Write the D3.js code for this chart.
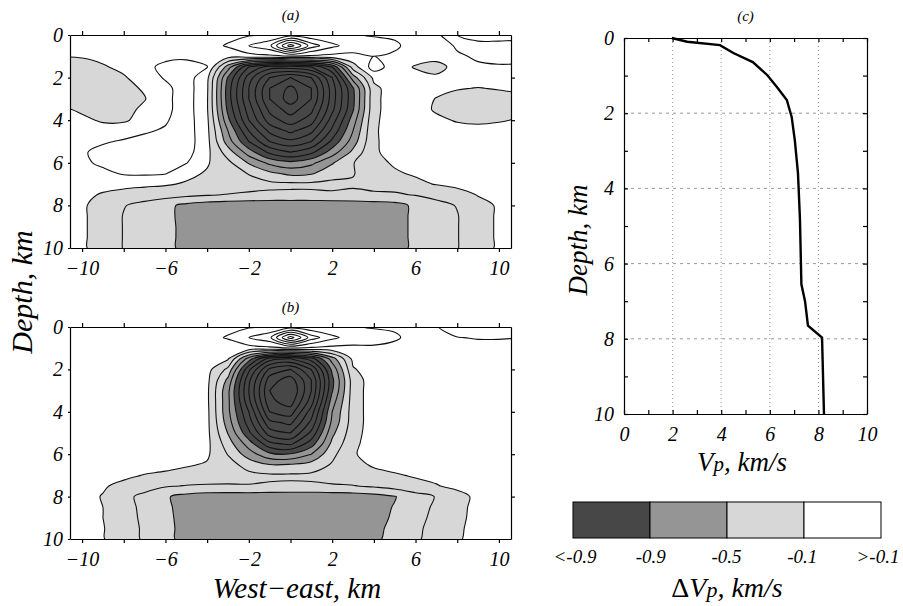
<!DOCTYPE html>
<html>

<head>
    <meta charset="utf-8">
    <title>P-wave velocity anomaly sections</title>
    <style>
        body {
            margin: 0;
            background: #fff;
        }

        text {
            font-family: "Liberation Serif", "Times New Roman", serif;
            font-style: italic;
        }

        .axis text {
            font-size: 20px;
            font-family: "Liberation Serif", "Times New Roman", serif;
            font-style: italic;
        }

        .axis path,
        .axis line {
            stroke: #000;
            stroke-width: 1.2;
        }
    </style>
    <script src="https://cdn.jsdelivr.net/npm/d3@7"></script>
</head>

<body>
    <script>
        // grid nodes of the two sections (km)
        var xNodes = [-11, -10, -9, -8, -7, -6, -5, -4, -3, -2, -1, 0, 1, 2, 3, 4, 5, 6, 7, 8, 9, 10, 11];
        var depthNodes = [0, 0.5, 1, 1.5, 2, 2.5, 3, 3.5, 4, 4.5, 5, 5.5, 6, 6.5, 7, 7.5, 8, 8.5, 9, 9.5, 10];

        // dVp (km/s), one row per depth node
        var gridA = [
            [0, 0, 0, 0, 0, 0, 0, 0.02, 0.04, 0.08, 0.12, 0.2, 0.15, 0.12, 0.11, 0.09, 0.08, 0.03, 0.05, 0.3, 0.5, 0.5, 0.5],
            [0, 0, 0, 0, 0, 0.02, 0.02, 0.03, 0.12, 0.3, 0.45, 1.2, 0.6, 0.35, 0.2, 0.15, 0.12, 0.05, 0.02, 0.12, 0.15, 0.15, 0.15],
            [-0.08, -0.08, -0.05, 0, 0.02, 0.05, 0.05, 0, -0.02, 0.02, 0.05, 0.08, 0.06, 0.04, 0.05, 0.1, 0.08, 0, 0, 0.08, 0.12, 0.13, 0.13],
            [-0.2, -0.2, -0.12, -0.05, 0.05, 0.15, 0.2, 0.11, -0.6, -1.3, -1.6, -1.6, -1.5, -1.1, -0.2, 0.2, 0, -0.12, -0.2, 0, 0.08, 0.09, 0.09],
            [-0.25, -0.25, -0.2, -0.12, 0, 0.12, 0.2, -0.05, -0.92, -1.6, -2.1, -2.3, -2.1, -1.5, -0.6, -0.05, 0, -0.02, -0.05, 0, 0.02, 0.03, 0.03],
            [-0.28, -0.28, -0.25, -0.15, -0.08, 0.05, 0.2, -0.07, -1.0, -1.7, -2.3, -2.55, -2.3, -1.6, -0.92, -0.15, 0, 0, -0.03, -0.08, -0.11, -0.08, -0.05],
            [-0.28, -0.28, -0.25, -0.18, -0.11, 0.05, 0.2, -0.08, -1.0, -1.7, -2.3, -2.6, -2.3, -1.6, -0.95, -0.15, 0, 0, -0.11, -0.2, -0.24, -0.2, -0.15],
            [-0.06, -0.14, -0.2, -0.16, -0.06, 0.05, 0.2, -0.08, -0.95, -1.6, -2.15, -2.4, -2.15, -1.55, -0.92, -0.15, 0, 0, -0.13, -0.22, -0.26, -0.22, -0.15],
            [0, -0.05, -0.13, -0.13, -0.02, 0.08, 0.2, -0.06, -0.85, -1.5, -2.0, -2.2, -2.0, -1.4, -0.8, -0.13, -0.02, 0, -0.05, -0.12, -0.15, -0.12, -0.08],
            [0.02, 0.02, 0, 0.02, 0.08, 0.12, 0.2, -0.05, -0.7, -1.3, -1.75, -1.95, -1.75, -1.25, -0.7, -0.12, -0.03, 0, 0, -0.02, -0.02, -0.02, 0],
            [0.02, 0.05, 0.08, 0.12, 0.15, 0.2, 0.2, -0.04, -0.6, -1.1, -1.5, -1.65, -1.5, -1.05, -0.6, -0.12, -0.04, 0, 0, 0, 0, 0, 0],
            [0.02, 0.08, 0.15, 0.18, 0.2, 0.2, 0.18, -0.05, -0.4, -0.8, -1.15, -1.3, -1.15, -0.8, -0.45, -0.12, -0.05, 0, 0, 0, 0, 0, 0],
            [0.02, 0.06, 0.14, 0.17, 0.18, 0.17, 0.11, -0.08, -0.25, -0.52, -0.75, -0.85, -0.75, -0.52, -0.31, -0.15, -0.08, -0.02, 0, 0, 0, 0, 0],
            [0, 0, 0.05, 0.12, 0.13, 0.11, -0.05, -0.12, -0.2, -0.31, -0.45, -0.55, -0.52, -0.38, -0.31, -0.2, -0.12, -0.08, -0.05, -0.02, 0, 0, 0],
            [0, -0.02, -0.03, -0.05, -0.06, -0.08, -0.12, -0.15, -0.18, -0.22, -0.25, -0.26, -0.26, -0.25, -0.28, -0.26, -0.24, -0.14, -0.09, -0.05, -0.02, 0, 0],
            [0, -0.05, -0.12, -0.16, -0.2, -0.22, -0.25, -0.28, -0.31, -0.33, -0.34, -0.34, -0.34, -0.33, -0.33, -0.32, -0.32, -0.29, -0.24, -0.18, -0.09, -0.05, 0],
            [0, -0.08, -0.16, -0.29, -0.36, -0.45, -0.55, -0.6, -0.62, -0.63, -0.64, -0.64, -0.64, -0.63, -0.62, -0.6, -0.57, -0.46, -0.36, -0.29, -0.16, -0.08, 0],
            [0, -0.08, -0.16, -0.31, -0.36, -0.45, -0.56, -0.61, -0.63, -0.64, -0.64, -0.65, -0.64, -0.64, -0.63, -0.61, -0.57, -0.46, -0.36, -0.31, -0.16, -0.08, 0],
            [0, -0.08, -0.16, -0.31, -0.36, -0.44, -0.56, -0.62, -0.64, -0.65, -0.65, -0.65, -0.65, -0.65, -0.64, -0.62, -0.57, -0.46, -0.36, -0.31, -0.16, -0.08, 0],
            [0, -0.08, -0.16, -0.31, -0.36, -0.43, -0.57, -0.62, -0.64, -0.65, -0.65, -0.65, -0.65, -0.65, -0.64, -0.62, -0.57, -0.46, -0.36, -0.31, -0.16, -0.08, 0],
            [0, -0.08, -0.16, -0.31, -0.36, -0.42, -0.58, -0.62, -0.64, -0.65, -0.65, -0.65, -0.65, -0.65, -0.64, -0.62, -0.57, -0.46, -0.36, -0.31, -0.16, -0.08, 0]
        ];

        // dVp (km/s)
        var gridB = [
            [0, 0, 0, 0, 0, 0, 0, 0.02, 0.04, 0.08, 0.12, 0.2, 0.15, 0.12, 0.11, 0.09, 0.08, 0.03, 0.08, 0.3, 0.3, 0.3, 0.3],
            [0, 0, 0, 0, 0, 0, 0.02, 0.03, 0.12, 0.3, 0.45, 1.2, 0.6, 0.35, 0.2, 0.15, 0.12, 0.05, 0.02, 0.09, 0.12, 0.12, 0.12],
            [0, 0, 0, 0, 0, 0, 0, 0, -0.02, 0.02, 0.05, 0.08, 0.06, 0.04, 0.06, 0.08, 0.06, 0, 0, 0, 0, 0, 0],
            [0, 0, 0, 0, 0, 0, 0, 0, -0.08, -0.8, -1.4, -1.5, -1.2, -0.6, -0.05, 0, 0, 0, 0, 0, 0, 0, 0],
            [0, 0, 0, 0, 0, 0, 0, -0.03, -0.35, -1.25, -1.95, -2.1, -1.7, -0.85, -0.12, 0, 0, 0, 0, 0, 0, 0, 0],
            [0, 0, 0, 0, 0, 0, 0, -0.05, -0.55, -1.45, -2.2, -2.4, -1.9, -0.95, -0.2, 0, 0, 0, 0, 0, 0, 0, 0],
            [0, 0, 0, 0, 0, 0, 0, -0.06, -0.65, -1.5, -2.3, -2.5, -1.9, -0.92, -0.2, 0, 0, 0, 0, 0, 0, 0, 0],
            [0, 0, 0, 0, 0, 0, 0, -0.06, -0.65, -1.45, -2.25, -2.4, -1.8, -0.8, -0.2, 0, 0, 0, 0, 0, 0, 0, 0],
            [0, 0, 0, 0, 0, 0, 0, -0.05, -0.65, -1.3, -2.1, -2.2, -1.6, -0.7, -0.2, 0, 0, 0, 0, 0, 0, 0, 0],
            [0, 0, 0, 0, 0, 0, 0, -0.05, -0.6, -1.2, -1.85, -1.95, -1.45, -0.65, -0.2, 0, 0, 0, 0, 0, 0, 0, 0],
            [0, 0, 0, 0, 0, 0, 0, -0.05, -0.51, -1.05, -1.6, -1.7, -1.25, -0.55, -0.18, 0, 0, 0, 0, 0, 0, 0, 0],
            [0, 0, 0, 0, 0, 0, 0, -0.05, -0.4, -0.8, -1.25, -1.35, -1.0, -0.45, -0.15, 0, 0, 0, 0, 0, 0, 0, 0],
            [0, 0, 0, 0, 0, 0, -0.02, -0.07, -0.31, -0.6, -0.85, -0.88, -0.7, -0.35, -0.12, -0.02, 0, 0, 0, 0, 0, 0, 0],
            [0, 0, 0, 0, -0.02, -0.04, -0.08, -0.12, -0.22, -0.38, -0.49, -0.48, -0.42, -0.28, -0.15, -0.08, -0.04, -0.02, 0, 0, 0, 0, 0],
            [0, 0, -0.02, -0.06, -0.11, -0.14, -0.18, -0.2, -0.22, -0.25, -0.27, -0.27, -0.26, -0.22, -0.18, -0.15, -0.12, -0.08, -0.06, -0.03, 0, 0, 0],
            [0, -0.02, -0.08, -0.15, -0.22, -0.28, -0.31, -0.32, -0.32, -0.31, -0.32, -0.33, -0.33, -0.32, -0.31, -0.27, -0.22, -0.16, -0.11, -0.06, -0.02, 0, 0],
            [0, -0.04, -0.11, -0.25, -0.35, -0.48, -0.56, -0.6, -0.61, -0.61, -0.62, -0.62, -0.62, -0.61, -0.6, -0.57, -0.51, -0.38, -0.29, -0.16, -0.06, -0.02, 0],
            [0, -0.03, -0.1, -0.24, -0.34, -0.47, -0.56, -0.6, -0.61, -0.61, -0.62, -0.62, -0.62, -0.61, -0.6, -0.56, -0.49, -0.37, -0.27, -0.15, -0.05, -0.02, 0],
            [0, -0.03, -0.1, -0.22, -0.34, -0.46, -0.56, -0.6, -0.61, -0.61, -0.62, -0.62, -0.62, -0.61, -0.6, -0.55, -0.48, -0.36, -0.25, -0.14, -0.05, -0.02, 0],
            [0, -0.02, -0.09, -0.21, -0.33, -0.45, -0.56, -0.6, -0.61, -0.61, -0.62, -0.62, -0.62, -0.61, -0.6, -0.54, -0.46, -0.34, -0.23, -0.13, -0.04, -0.02, 0],
            [0, -0.02, -0.09, -0.2, -0.33, -0.45, -0.56, -0.6, -0.61, -0.61, -0.62, -0.62, -0.62, -0.61, -0.6, -0.53, -0.45, -0.33, -0.22, -0.12, -0.04, -0.02, 0]
        ];

        // contour levels and shading classes
        var lineLevels = [1.1, 0.9, 0.7, 0.5, 0.3, 0.1, -0.1, -0.3, -0.5, -0.7, -0.9, -1.1, -1.3, -1.5, -1.7, -1.9, -2.1, -2.3, -2.5];
        var shadeLevels = [-0.1, -0.5, -0.9];
        var shadeColors = ["#d7d7d7", "#959595", "#474747"];

        var xTicks = [-10, -8, -6, -4, -2, 0, 2, 4, 6, 8, 10];
        var xTickLabels = [-10, -6, -2, 2, 6, 10];
        var depthTicks = [0, 2, 4, 6, 8, 10];

        // panel (c): 1-D velocity model
        var profileDepth = [0, 0.1, 0.19, 0.4, 0.64, 0.99, 1.31, 1.65, 2.1, 2.72, 3.6, 4.8, 6.55, 7.0, 7.65, 7.97, 10];
        var profileVp = [1.97, 2.6, 3.95, 4.5, 5.3, 5.9, 6.3, 6.7, 6.9, 7.03, 7.16, 7.24, 7.3, 7.45, 7.57, 8.15, 8.23];
        var vpTicks = [0, 1, 2, 3, 4, 5, 6, 7, 8, 9, 10];
        var vpGrid = [2, 4, 6, 8];

        // legend
        var legendColors = ["#474747", "#959595", "#d7d7d7", "#ffffff"];
        var legendLabels = ["<-0.9", "-0.9", "-0.5", "-0.1", ">-0.1"];

        var svg = d3.select("body").append("svg")
            .attr("width", 903)
            .attr("height", 606);

        function minus(d) {
            return d < 0 ? "\u2212" + Math.abs(d) : "" + d;
        }

        function drawSection(grid, top, bottom, title, clipId) {
            var x = d3.scaleLinear().domain([-10.58, 10.58]).range([70, 511]);
            var y = d3.scaleLinear().domain([0, 10]).range([top, bottom]);

            var nx = xNodes.length,
                ny = depthNodes.length;
            var stepX = xNodes[1] - xNodes[0],
                stepY = depthNodes[1] - depthNodes[0];

            // negate so that "above threshold" means "slower than level"
            var flat = [];
            grid.forEach(function(row) {
                row.forEach(function(v) {
                    flat.push(-v);
                });
            });

            var contours = d3.contours().size([nx, ny]);
            var ringLine = d3.line()
                .x(function(p) {
                    return x(xNodes[0] + (p[0] - 0.5) * stepX);
                })
                .y(function(p) {
                    return y(depthNodes[0] + (p[1] - 0.5) * stepY);
                })
                .curve(d3.curveCatmullRomClosed.alpha(0.5));

            function pathOf(geom) {
                return geom.coordinates.map(function(poly) {
                    return poly.map(function(ring) {
                        return ringLine(ring.slice(0, -1));
                    }).join("");
                }).join("");
            }

            svg.append("clipPath").attr("id", clipId)
                .append("rect")
                .attr("x", x.range()[0]).attr("y", top)
                .attr("width", x.range()[1] - x.range()[0])
                .attr("height", bottom - top);

            var g = svg.append("g").attr("clip-path", "url(#" + clipId + ")");

            shadeLevels.forEach(function(lv, i) {
                g.append("path")
                    .attr("d", pathOf(contours.contour(flat, -lv)))
                    .attr("fill", shadeColors[i])
                    .attr("fill-rule", "evenodd");
            });

            lineLevels.forEach(function(lv) {
                g.append("path")
                    .attr("d", pathOf(contours.contour(flat, -lv)))
                    .attr("fill", "none")
                    .attr("stroke", "#111")
                    .attr("stroke-width", 1.1)
                    .attr("stroke-linejoin", "round");
            });

            // axes
            svg.append("g").attr("class", "axis")
                .attr("transform", "translate(0," + bottom + ")")
                .call(d3.axisBottom(x).tickValues(xTicks).tickSize(4).tickSizeOuter(0).tickPadding(9)
                    .tickFormat(function(d) {
                        return xTickLabels.indexOf(d) >= 0 ? minus(d) : "";
                    }));
            svg.append("g").attr("class", "axis")
                .attr("transform", "translate(0," + top + ")")
                .call(d3.axisTop(x).tickValues(xTicks).tickSize(4).tickSizeOuter(0).tickFormat(""));
            svg.append("g").attr("class", "axis")
                .attr("transform", "translate(" + x.range()[0] + ",0)")
                .call(d3.axisLeft(y).tickValues(depthTicks).tickSize(2).tickSizeOuter(0).tickPadding(5));
            svg.append("g").attr("class", "axis")
                .attr("transform", "translate(" + x.range()[1] + ",0)")
                .call(d3.axisRight(y).tickValues([2, 4, 6, 8]).tickSize(4).tickSizeOuter(0).tickFormat(""));

            svg.append("text")
                .attr("x", x(0)).attr("y", top - 15)
                .attr("text-anchor", "middle")
                .style("font-size", "15px")
                .text(title);
        }

        drawSection(gridA, 35, 248, "(a)", "clipA");
        drawSection(gridB, 327, 539, "(b)", "clipB");

        // shared axis titles of (a) and (b)
        svg.append("text")
            .attr("transform", "translate(32,292) rotate(-90)")
            .attr("text-anchor", "middle")
            .style("font-size", "30px")
            .text("Depth, km");
        svg.append("text")
            .attr("x", 297).attr("y", 598)
            .attr("text-anchor", "middle")
            .style("font-size", "29px")
            .text("West\u2212east, km");

        // panel (c)
        var vx = d3.scaleLinear().domain([0, 10]).range([624, 867]);
        var vy = d3.scaleLinear().domain([0, 10]).range([38, 414]);

        svg.append("g").selectAll("line.gx")
            .data(vpGrid).enter().append("line")
            .attr("x1", function(d) { return vx(d); })
            .attr("x2", function(d) { return vx(d); })
            .attr("y1", vy(0)).attr("y2", vy(10))
            .attr("stroke", "#999").attr("stroke-width", 1)
            .attr("stroke-dasharray", "1,3");
        svg.append("g").selectAll("line.gy")
            .data(vpGrid).enter().append("line")
            .attr("y1", function(d) { return vy(d); })
            .attr("y2", function(d) { return vy(d); })
            .attr("x1", vx(0)).attr("x2", vx(10))
            .attr("stroke", "#999").attr("stroke-width", 1)
            .attr("stroke-dasharray", "3,4");

        svg.append("g").attr("class", "axis")
            .attr("transform", "translate(0," + vy(10) + ")")
            .call(d3.axisBottom(vx).tickValues(vpTicks).tickSize(-4).tickSizeOuter(0).tickPadding(13)
                .tickFormat(function(d) { return d % 2 === 0 ? d : ""; }));
        svg.append("g").attr("class", "axis")
            .attr("transform", "translate(0," + vy(0) + ")")
            .call(d3.axisTop(vx).tickValues(vpTicks).tickSize(-4).tickSizeOuter(0).tickFormat(""));
        svg.append("g").attr("class", "axis")
            .attr("transform", "translate(" + vx(0) + ",0)")
            .call(d3.axisLeft(vy).tickValues(vpTicks).tickSize(-4).tickSizeOuter(0).tickPadding(10)
                .tickFormat(function(d) { return d % 2 === 0 ? d : ""; }));
        svg.append("g").attr("class", "axis")
            .attr("transform", "translate(" + vx(10) + ",0)")
            .call(d3.axisRight(vy).tickValues(vpTicks).tickSize(-4).tickSizeOuter(0).tickFormat(""));

        var profile = d3.line()
            .x(function(d, i) { return vx(profileVp[i]); })
            .y(function(d) { return vy(d); });
        svg.append("path")
            .attr("d", profile(profileDepth))
            .attr("fill", "none")
            .attr("stroke", "#000")
            .attr("stroke-width", 2.4);

        svg.append("text")
            .attr("x", vx(5)).attr("y", 21)
            .attr("text-anchor", "middle")
            .style("font-size", "15px")
            .text("(c)");
        svg.append("text")
            .attr("transform", "translate(587,240) rotate(-90)")
            .attr("text-anchor", "middle")
            .style("font-size", "27px")
            .text("Depth, km");
        var vpTitle = svg.append("text")
            .attr("x", 742).attr("y", 471)
            .attr("text-anchor", "middle")
            .style("font-size", "27px");
        vpTitle.append("tspan").text("V");
        vpTitle.append("tspan").style("font-size", "21px").text("p");
        vpTitle.append("tspan").text(", km/s");

        // legend
        var lx = d3.scaleBand().domain(d3.range(legendColors.length)).range([573, 881]);
        svg.append("g").selectAll("rect")
            .data(legendColors).enter().append("rect")
            .attr("x", function(d, i) { return lx(i); })
            .attr("y", 502)
            .attr("width", lx.bandwidth())
            .attr("height", 36)
            .attr("fill", function(d) { return d; })
            .attr("stroke", "#000")
            .attr("stroke-width", 1);
        var lLab = d3.scaleLinear().domain([0, 4]).range([575, 878]);
        svg.append("g").selectAll("text")
            .data(legendLabels).enter().append("text")
            .attr("x", function(d, i) { return lLab(i); })
            .attr("y", 563)
            .attr("text-anchor", "middle")
            .style("font-size", "19px")
            .text(function(d) { return d; });
        var dTitle = svg.append("text")
            .attr("x", 727).attr("y", 597)
            .attr("text-anchor", "middle")
            .style("font-size", "28px");
        dTitle.append("tspan").style("font-style", "normal").text("\u0394");
        dTitle.append("tspan").text("V");
        dTitle.append("tspan").style("font-size", "22px").text("p");
        dTitle.append("tspan").text(", km/s");
    </script>
</body>

</html>
